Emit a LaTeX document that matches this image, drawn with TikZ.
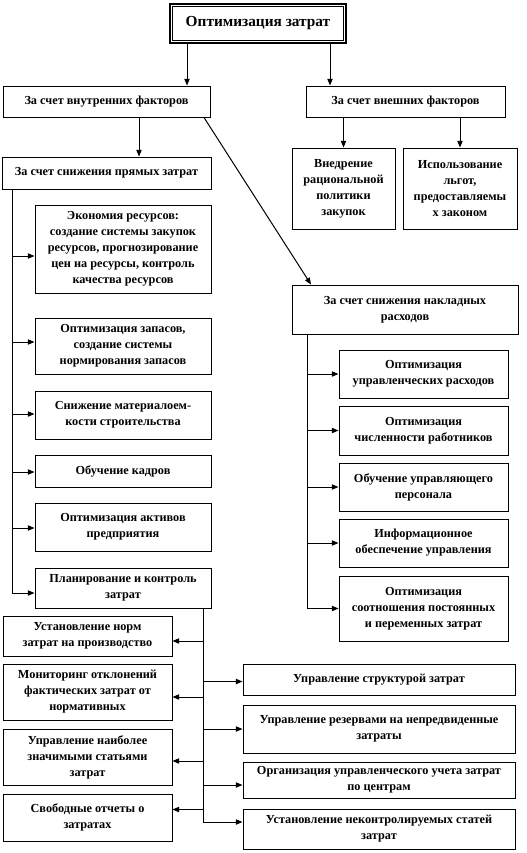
\documentclass[tikz,border=0pt]{standalone}
\usepackage{fontspec}
\setmainfont{Liberation Serif}
\usetikzlibrary{arrows.meta}

\begin{document}
\begin{tikzpicture}[
    x=0.75pt, y=-0.75pt,
    box/.style={draw, line width=0.75pt, inner sep=1pt, align=center,
      font=\fontsize{9.2}{12}\selectfont\bfseries},
    sz/.style 2 args={minimum width=#1*0.75pt, minimum height=#2*0.75pt},
    arr/.style={-{Triangle[length=5pt, width=4pt]}, line width=0.75pt},
    trunk/.style={line width=0.75pt},
  ]
    \useasboundingbox (0,0) rectangle (526,853);

    % top level
    \node[box, sz={176}{39}, line width=2pt, font=\fontsize{11.5}{14}\selectfont\bfseries] (opt) at (258,23.5) {Оптимизация затрат};
    \draw[line width=0.75pt] ([shift={(3pt,-3pt)}]opt.north west) rectangle ([shift={(-3pt,3pt)}]opt.south east);
    \node[box, sz={207}{31}] (vn) at (106.5,101.5) {За счет внутренних факторов};
    \node[box, sz={199}{31}] (vs) at (405.5,101.5) {За счет внешних факторов};
    \draw[arr] (187,0 |- opt.south) -- (187,0 |- vn.north);
    \draw[arr] (330,0 |- opt.south) -- (330,0 |- vs.north);

    % external factors
    \node[box, sz={103}{81}] (zak) at (343.5,188.5) {Внедрение\\рациональной\\политики\\закупок};
    \node[box, sz={114}{81}] (lgot) at (460,188.5) {Использование\\льгот,\\предоставляемы\\х законом};
    \draw[arr] (vs.south -| zak.north) -- (zak.north);
    \draw[arr] (vs.south -| lgot.north) -- (lgot.north);

    % direct costs
    \node[box, sz={209}{32}] (pr) at (106.5,173) {За счет снижения прямых затрат};
    \draw[arr] (139,0 |- vn.south) -- (139,0 |- pr.north);
    \node[box, sz={176}{88}] (p1) at (123,249) {Экономия ресурсов:\\создание системы закупок\\ресурсов, прогнозирование\\цен на ресурсы, контроль\\качества ресурсов};
    \node[box, sz={176}{56}] (p2) at (123,346) {Оптимизация запасов,\\создание системы\\нормирования запасов};
    \node[box, sz={176}{48}] (p3) at (123,415) {Снижение материалоем-\\кости строительства};
    \node[box, sz={176}{32}] (p4) at (123,471) {Обучение кадров};
    \node[box, sz={176}{48}] (p5) at (123,527) {Оптимизация активов\\предприятия};
    \node[box, sz={176}{40}] (plan) at (123,588) {Планирование и контроль\\затрат};
    \draw[trunk] (12,0 |- pr.south) -- (12,593);
    \foreach \n/\d in {p1/7,p2/-4,p3/-1,p4/1,p5/1,plan/5}
      \draw[arr] ([yshift={-0.75pt*(\d)}]12,0 |- \n.west) -- ([yshift={-0.75pt*(\d)}]\n.west);

    % overhead costs
    \node[box, sz={226}{49}] (nk) at (405,309.5) {За счет снижения накладных\\расходов};
    \draw[arr] (204,0 |- vn.south) -- (311,0 |- nk.north);
    \node[box, sz={169}{48}] (n1) at (423.5,374) {Оптимизация\\управленческих расходов};
    \node[box, sz={169}{49}] (n2) at (423.5,430.5) {Оптимизация\\численности работников};
    \node[box, sz={169}{48}] (n3) at (423.5,487) {Обучение управляющего\\персонала};
    \node[box, sz={169}{48}] (n4) at (423.5,543) {Информационное\\обеспечение управления};
    \node[box, sz={169}{65}] (n5) at (423.5,608.5) {Оптимизация\\соотношения постоянных\\и переменных затрат};
    \draw[trunk] (307,0 |- nk.south) -- (307,0 |- n5.west);
    \foreach \n in {n1,n2,n3,n4,n5}
      \draw[arr] (307,0 |- \n.west) -- (\n.west);

    % planning and control
    \node[box, sz={169}{40}] (l1) at (87.5,636) {Установление норм\\затрат на производство};
    \node[box, sz={169}{56}] (l2) at (87.5,692) {Мониторинг отклонений\\фактических затрат от\\нормативных};
    \node[box, sz={169}{56}] (l3) at (87.5,757) {Управление наиболее\\значимыми статьями\\затрат};
    \node[box, sz={169}{47}] (l4) at (87.5,817.5) {Свободные отчеты о\\затратах};
    \node[box, sz={272}{31}] (r1) at (379,679.5) {Управление структурой затрат};
    \node[box, sz={272}{48}] (r2) at (379,729) {Управление резервами на непредвиденные\\затраты};
    \node[box, sz={272}{36}] (r3) at (379,780) {Организация управленческого учета затрат\\по центрам};
    \node[box, sz={272}{40}] (r4) at (379,829) {Установление неконтролируемых статей\\затрат};
    \draw[trunk] (203,0 |- plan.south) -- (203,822);
    \foreach \n/\d in {l1/5,l2/5,l3/4,l4/-8}
      \draw[arr] ([yshift={-0.75pt*(\d)}]203,0 |- \n.east) -- ([yshift={-0.75pt*(\d)}]\n.east);
    \foreach \n/\d in {r1/2,r2/0,r3/5,r4/-7}
      \draw[arr] ([yshift={-0.75pt*(\d)}]203,0 |- \n.west) -- ([yshift={-0.75pt*(\d)}]\n.west);
  \end{tikzpicture}
\end{document}
